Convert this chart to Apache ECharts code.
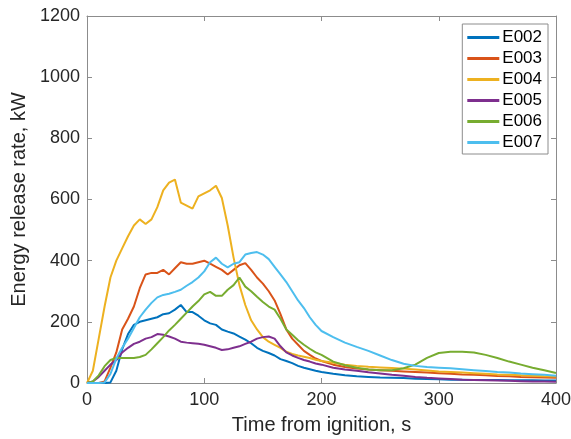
<!DOCTYPE html>
<html>
<head>
<meta charset="utf-8">
<script src="https://cdn.jsdelivr.net/npm/echarts@6/dist/echarts.min.js"></script>
<style>
  html, body { margin: 0; padding: 0; background: #fff; }
  #chart { width: 571px; height: 439px; }
</style>
</head>
<body>
<div id="chart"></div>
<script>
// time from ignition, s
var time = [0,5,10,15,20,25,30,35,40,45,50,55,60,65,70,75,80,85,90,95,100,105,110,115,120,125,130,135,140,145,150,155,160,165,170,175,180,185,190,195,200,
            210,220,230,240,250,260,270,280,290,300,310,320,330,340,350,360,370,380,390,400];

var names = ['E002', 'E003', 'E004', 'E005', 'E006', 'E007'];
var colors = ['#0072BD', '#D95319', '#EDB120', '#7E2F8E', '#77AC30', '#4DBEEE'];

// energy release rate, kW
var e002 = [0,0,0,0,2,40,110,160,190,200,205,210,215,225,228,240,255,232,232,220,205,195,190,175,168,162,152,142,130,115,105,98,90,78,72,65,56,50,45,40,36,
            30,25,22,20,18,17,16,14,13,12,11,11,10,10,10,9,9,9,8,8];
var e003 = [0,0,0,5,50,100,175,210,250,310,355,360,360,370,355,375,395,390,390,395,400,390,380,370,355,370,385,392,370,345,325,300,270,225,175,145,125,105,92,80,72,
            60,52,47,44,42,40,38,36,34,32,30,28,27,25,23,22,20,19,18,17];
var e004 = [0,40,145,250,345,400,440,480,515,535,520,535,575,630,655,665,590,580,570,610,620,630,645,605,515,410,320,255,205,175,150,135,125,115,102,95,90,86,82,76,72,
            66,60,56,53,51,49,47,44,41,38,36,34,32,30,28,27,25,24,22,21];
var e005 = [0,5,20,40,60,75,100,115,128,135,145,150,160,158,152,145,135,132,130,128,125,120,115,108,110,115,120,128,135,145,150,152,145,120,100,90,82,75,70,64,60,
            50,44,40,35,31,27,24,20,17,15,13,11,10,9,8,7,6,5,5,4];
var e006 = [0,5,25,55,75,82,82,82,82,85,92,110,130,150,172,190,210,230,250,268,290,298,285,285,305,320,345,315,300,282,265,250,240,210,175,158,140,125,112,100,92,
            70,58,50,44,42,42,48,60,82,98,102,102,100,92,82,70,60,50,42,33];
var e007 = [0,0,0,2,30,80,115,145,180,215,240,262,280,288,292,298,305,318,330,345,365,395,410,390,378,390,395,420,425,428,420,405,380,355,330,300,270,245,215,190,170,
            150,132,118,105,90,75,63,56,52,50,48,45,42,39,36,34,31,29,27,24];

var values = [e002, e003, e004, e005, e006, e007];

var font = 'Liberation Sans, Arial, Helvetica, sans-serif';
var axisGray = '#8c8c8c';
var textDark = '#262626';

var series = [];
for (var i = 0; i < names.length; i++) {
    series.push({
        name: names[i],
        type: 'line',
        data: time.map(function (t, k) { return [t, values[i][k]]; }),
        showSymbol: false,
        symbol: 'none',
        lineStyle: { width: 2, color: colors[i] },
        itemStyle: { color: colors[i] },
        animation: false
    });
}

var chart = echarts.init(document.getElementById('chart'));

var option = {
    backgroundColor: '#fff',
    animation: false,
    textStyle: { fontFamily: font },
    grid: {
        left: 87,
        right: 15,
        top: 16,
        bottom: 56,
        containLabel: false,
        outerBoundsMode: 'none'
    },
    legend: {
        data: names,
        orient: 'vertical',
        right: 23,
        top: 24,
        icon: 'rect',
        itemWidth: 32,
        itemHeight: 3,
        itemGap: 4,
        padding: [5, 6, 3, 5],
        borderColor: axisGray,
        borderWidth: 1,
        backgroundColor: '#fff',
        textStyle: { fontSize: 17, color: '#000', fontFamily: font, padding: [0, 0, 0, -2] }
    },
    xAxis: [
        {
            type: 'value',
            min: 0,
            max: 400,
            interval: 100,
            name: 'Time from ignition, s',
            nameLocation: 'middle',
            nameGap: 32,
            nameTextStyle: { fontSize: 20, color: textDark, fontFamily: font },
            axisLine: { show: true, onZero: false, lineStyle: { color: axisGray, width: 1 } },
            axisTick: { show: true, inside: true, length: 5, lineStyle: { color: axisGray } },
            axisLabel: { fontSize: 18, color: textDark, margin: 8, fontFamily: font,
                formatter: function (v) { return String(v); } },
            splitLine: { show: false }
        },
        {
            type: 'value',
            position: 'top',
            min: 0,
            max: 400,
            interval: 100,
            axisLine: { show: true, onZero: false, lineStyle: { color: axisGray, width: 1 } },
            axisTick: { show: true, inside: true, length: 5, lineStyle: { color: axisGray } },
            axisLabel: { show: false },
            splitLine: { show: false }
        }
    ],
    yAxis: [
        {
            type: 'value',
            min: 0,
            max: 1200,
            interval: 200,
            name: 'Energy release rate, kW',
            nameLocation: 'middle',
            nameGap: 36,
            nameTextStyle: { fontSize: 20, color: textDark, fontFamily: font },
            axisLine: { show: true, onZero: false, lineStyle: { color: axisGray, width: 1 } },
            axisTick: { show: true, inside: true, length: 5, lineStyle: { color: axisGray } },
            axisLabel: { fontSize: 18, color: textDark, margin: 7, fontFamily: font,
                formatter: function (v) { return String(v); } },
            splitLine: { show: false }
        },
        {
            type: 'value',
            position: 'right',
            min: 0,
            max: 1200,
            interval: 200,
            axisLine: { show: true, onZero: false, lineStyle: { color: axisGray, width: 1 } },
            axisTick: { show: true, inside: true, length: 5, lineStyle: { color: axisGray } },
            axisLabel: { show: false },
            splitLine: { show: false }
        }
    ],
    series: series
};

option && chart.setOption(option);
</script>
</body>
</html>
